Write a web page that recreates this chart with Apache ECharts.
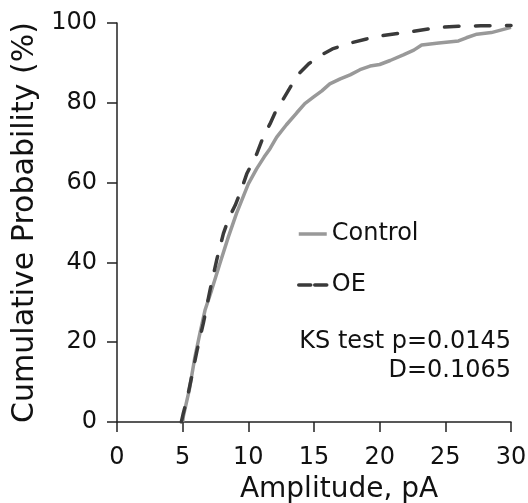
<!DOCTYPE html>
<html><head><meta charset="utf-8">
<script src="https://cdn.jsdelivr.net/npm/echarts@6/dist/echarts.min.js"></script>
<style>html,body{margin:0;padding:0;background:#fff}#c{width:528px;height:503px}</style>
</head><body><div id="c"></div>
<script>
var controlData = [[5.0,0],[5.05,1.4],[5.5,8],[5.94,16.4],[6.3,22],[6.7,28],[7.2,33],[7.84,39.8],[8.48,46.4],[9.1,52.3],[10.0,59.7],[10.64,63.5],[11.2,66.4],[11.65,68.5],[12.16,71.4],[12.9,74.5],[13.69,77.5],[14.3,79.8],[14.95,81.4],[15.6,83],[16.2,84.75],[17.0,86],[17.75,87],[18.5,88.3],[19.27,89.2],[20.0,89.6],[20.8,90.6],[21.8,92],[22.6,93.2],[23.2,94.5],[24.5,95.0],[26.0,95.5],[26.6,96.3],[27.4,97.2],[28.5,97.6],[30,98.9]];
var oeData = [[4.9,0],[5.05,2.2],[5.35,6],[5.69,11.4],[6.1,18],[6.57,24.7],[7.08,33],[7.59,40.6],[8.1,47.2],[8.5,51],[9.0,54.3],[9.5,58.5],[9.88,62.2],[10.64,67.2],[11.2,72],[11.65,74.7],[12.1,78],[12.67,81],[13.3,84.5],[13.94,87.6],[14.6,89.8],[15.46,91.8],[16.4,93.5],[17.5,94.75],[19.0,96],[20.1,96.8],[22.1,97.7],[24.5,98.9],[26.0,99.2],[27.7,99.3],[30,99.4]];
var seriesNames = ['Control','OE'];
var xTicks = [0,5,10,15,20,25,30];
var yTicks = [0,20,40,60,80,100];
var statLines = ['KS test p=0.0145','D=0.1065'];

var FONT = '"DejaVu Sans"';
var chart = echarts.init(document.getElementById('c'), null, {renderer:'canvas'});
var axisCommon = {
  axisLine:{show:true,lineStyle:{color:'#222',width:1.5}},
  axisTick:{show:true,inside:false,length:10,lineStyle:{color:'#222',width:1.5}},
  splitLine:{show:false},
  axisLabel:{color:'#111',fontSize:24,fontFamily:FONT}
};
chart.setOption({
  animation:false,
  grid:{left:117,right:17,top:23,bottom:81,containLabel:false,outerBoundsMode:'none'},
  legend:{
    orient:'vertical',left:297,top:222,padding:0,itemWidth:28,itemHeight:14,itemGap:27,
    textStyle:{fontSize:24,fontFamily:FONT,color:'#111'},
    itemStyle:{opacity:0},
    data:[
      {name:seriesNames[0],itemStyle:{opacity:0},lineStyle:{color:'#999',width:3.5,type:'solid'}},
      {name:seriesNames[1],itemStyle:{opacity:0},lineStyle:{color:'#3a3a3a',width:3.5,type:[12,4]}}
    ]
  },
  xAxis:Object.assign({},axisCommon,{
    type:'value',min:0,max:30,interval:5,
    name:'Amplitude, pA',nameLocation:'middle',nameGap:54,
    nameTextStyle:{fontSize:28,fontFamily:FONT,color:'#111',padding:[0,0,0,50]},
    axisLabel:Object.assign({},axisCommon.axisLabel,{margin:24})
  }),
  yAxis:Object.assign({},axisCommon,{
    type:'value',min:0,max:100,interval:20,
    name:'Cumulative Probability (%)',nameLocation:'middle',nameGap:66,
    nameTextStyle:{fontSize:30,fontFamily:FONT,color:'#111'},
    axisLabel:Object.assign({},axisCommon.axisLabel,{margin:20})
  }),
  graphic:[
    {type:'text',right:17,top:330,style:{text:statLines[0],fontSize:24,fontFamily:FONT,fill:'#111',textAlign:'right'}},
    {type:'text',right:17,top:359,style:{text:statLines[1],fontSize:24,fontFamily:FONT,fill:'#111',textAlign:'right'}}
  ],
  series:[
    {name:seriesNames[0],type:'line',data:controlData,showSymbol:false,symbol:'none',smooth:false,
     lineStyle:{color:'#999',width:3.5},itemStyle:{color:'#999'}},
    {name:seriesNames[1],type:'line',data:oeData,showSymbol:false,symbol:'none',smooth:false,
     lineStyle:{color:'#3a3a3a',width:3.5,type:[14.5,16.5],cap:'round'},itemStyle:{color:'#3a3a3a'}}
  ]
});
</script></body></html>
